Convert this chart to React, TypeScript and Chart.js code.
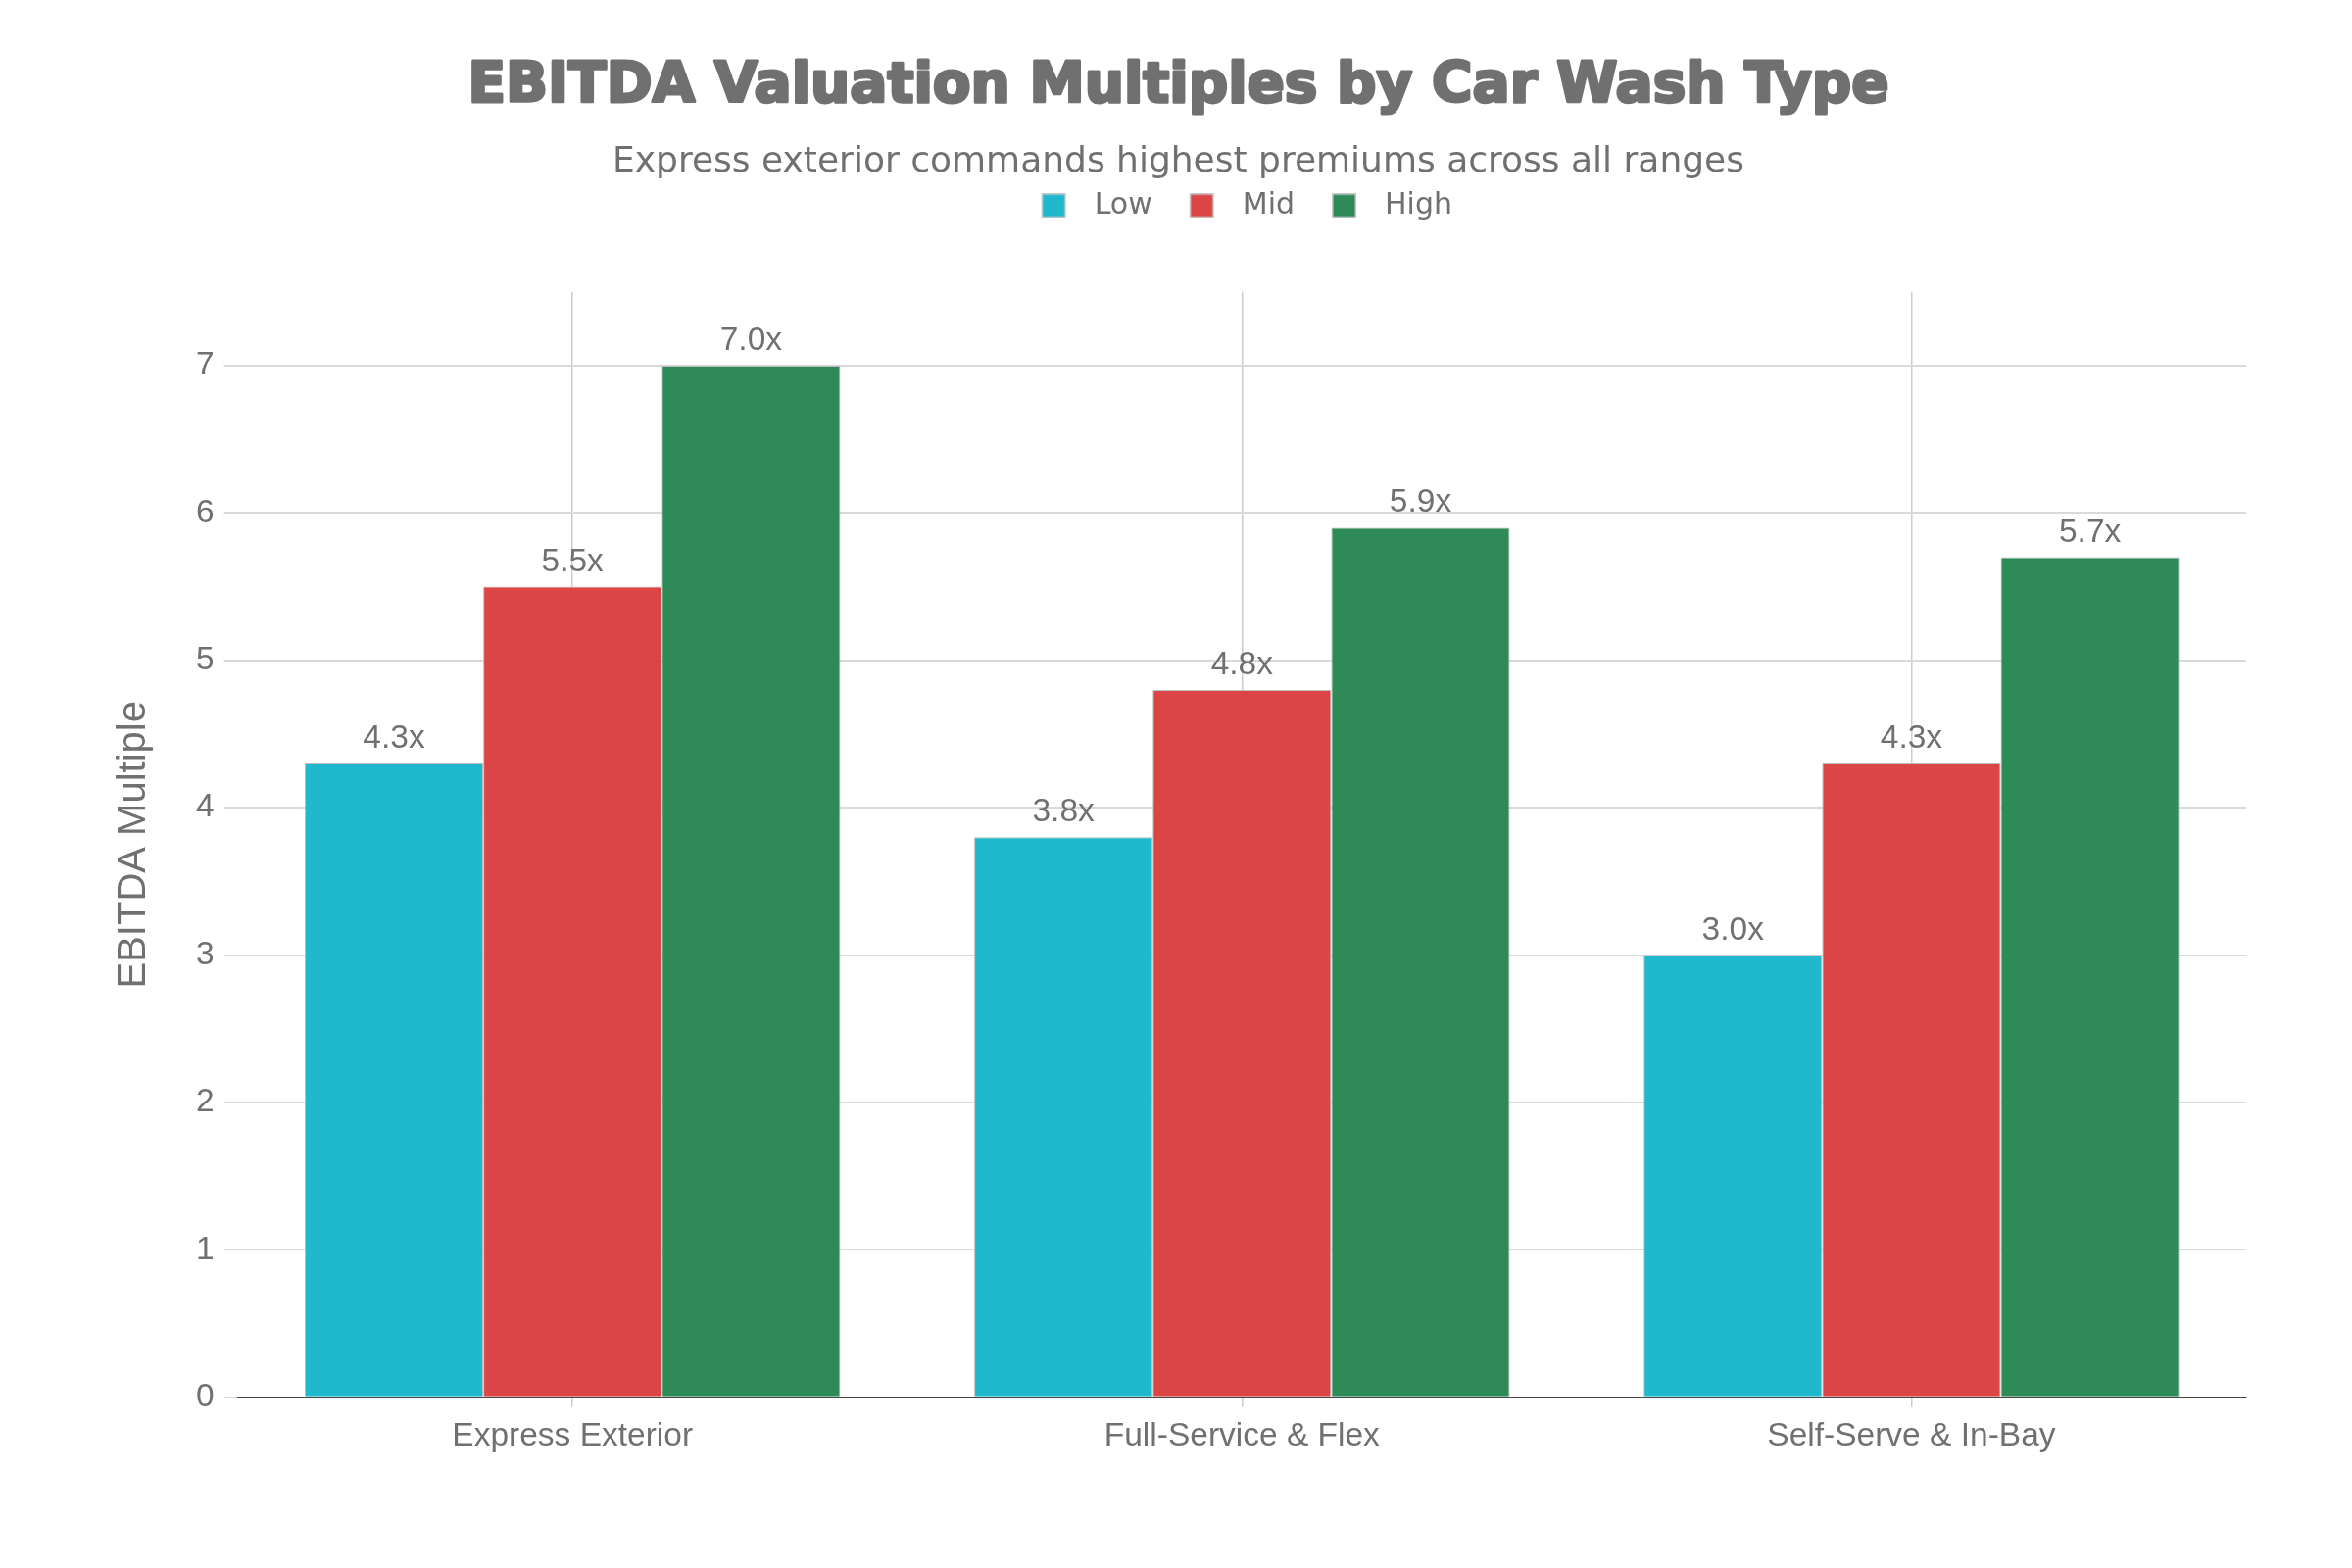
import React, { useEffect, useRef } from 'react';
import { Chart, registerables } from 'chart.js';

Chart.register(...registerables);

const categories = ['Express Exterior', 'Full-Service & Flex', 'Self-Serve & In-Bay'];
const seriesNames = ['Low', 'Mid', 'High'];
const lowValues = [4.3, 3.8, 3.0];
const midValues = [5.5, 4.8, 4.3];
const highValues = [7.0, 5.9, 5.7];
const seriesColors = ['#1FB8CD', '#DB4545', '#2E8B57'];
const yTickValues = [0, 1, 2, 3, 4, 5, 6, 7];
const titleText = 'EBITDA Valuation Multiples by Car Wash Type';
const subtitleText = 'Express exterior commands highest premiums across all ranges';
const yAxisTitle = 'EBITDA Multiple';

const TEXT = '#707070';
const SANS = '"Liberation Sans", Arial, sans-serif';
const DEJAVU = '"DejaVu Sans", sans-serif';
const LEGEND_GAP = 63;
const TITLE_SIZE = 56.5;
const TITLE_PAD_TOP = 55;
const ICON_W = 49;
const ICON_OFFSET = 10;

function makeLegendIcon(color: string): HTMLCanvasElement {
  const c = document.createElement('canvas');
  c.width = ICON_W;
  c.height = 25;
  const g = c.getContext('2d')!;
  g.fillStyle = color;
  g.fillRect(ICON_OFFSET, 0, 25, 25);
  g.strokeStyle = '#c8c8c8';
  g.lineWidth = 1.5;
  g.strokeRect(ICON_OFFSET + 0.75, 0.75, 23.5, 23.5);
  return c;
}

const barLabels = {
  id: 'barLabels',
  afterDatasetsDraw(chart: any) {
    const ctx = chart.ctx;
    ctx.save();
    ctx.font = `33.5px ${SANS}`;
    ctx.fillStyle = TEXT;
    ctx.textAlign = 'center';
    ctx.textBaseline = 'alphabetic';
    chart.data.datasets.forEach((ds: any, i: number) => {
      const meta = chart.getDatasetMeta(i);
      meta.data.forEach((bar: any, j: number) => {
        ctx.fillText(Number(ds.data[j]).toFixed(1) + 'x', bar.x, bar.y - 16);
      });
    });
    ctx.restore();
  },
};

const titleStroke = {
  id: 'titleStroke',
  afterDraw(chart: any) {
    const tb = chart.titleBlock;
    if (!tb) return;
    const ctx = chart.ctx;
    ctx.save();
    ctx.font = `bold ${TITLE_SIZE}px ${DEJAVU}`;
    ctx.strokeStyle = TEXT;
    ctx.lineWidth = 3;
    ctx.lineJoin = 'round';
    ctx.textAlign = 'center';
    ctx.textBaseline = 'middle';
    ctx.strokeText(titleText, (tb.left + tb.right) / 2, tb.top + TITLE_PAD_TOP + (TITLE_SIZE * 1.2) / 2);
    ctx.restore();
  },
};

const legendSpacer = {
  id: 'legendSpacer',
  beforeInit(chart: any) {
    const legend = chart.legend;
    if (!legend) return;
    const origFit = legend.fit;
    legend.fit = function () {
      origFit.call(this);
      this.height += LEGEND_GAP;
    };
  },
};

export default function App() {
  const canvasRef = useRef<HTMLCanvasElement | null>(null);

  useEffect(() => {
    if (!canvasRef.current) return;
    const seriesValues = [lowValues, midValues, highValues];
    const icons = seriesColors.map(makeLegendIcon);
    const chart = new Chart(canvasRef.current, {
      type: 'bar',
      data: {
        labels: categories,
        datasets: seriesNames.map((name, i) => ({
          label: name,
          data: seriesValues[i],
          backgroundColor: seriesColors[i],
          borderColor: '#bdbdbd',
          borderWidth: 1,
          categoryPercentage: 0.8,
          barPercentage: 1.0,
        })),
      },
      options: {
        animation: false,
        responsive: false,
        devicePixelRatio: 1,
        layout: { padding: { left: 113, right: 108, top: 0, bottom: 104 } },
        plugins: {
          title: {
            display: true,
            text: titleText,
            color: TEXT,
            font: { family: DEJAVU, size: TITLE_SIZE, weight: 'bold', lineHeight: 1.2 },
            padding: { top: TITLE_PAD_TOP, bottom: 25 },
          },
          subtitle: {
            display: true,
            text: subtitleText,
            color: TEXT,
            font: { family: DEJAVU, size: 36, lineHeight: 1 },
            padding: { top: 0, bottom: -17 },
          },
          legend: {
            display: true,
            position: 'top',
            fullSize: false,
            labels: {
              usePointStyle: true,
              pointStyleWidth: ICON_W,
              padding: 28,
              color: TEXT,
              font: { family: DEJAVU, size: 30 },
              generateLabels: (ch: any) =>
                ch.data.datasets.map((ds: any, i: number) => ({
                  text: ds.label,
                  fillStyle: seriesColors[i],
                  strokeStyle: seriesColors[i],
                  lineWidth: 0,
                  hidden: !ch.isDatasetVisible(i),
                  datasetIndex: i,
                  pointStyle: icons[i],
                  fontColor: TEXT,
                })),
            },
          },
          tooltip: { enabled: false },
        },
        scales: {
          x: {
            grid: {
              display: true,
              offset: false,
              color: '#cccccc',
              lineWidth: 1.5,
              drawTicks: true,
              tickLength: 10,
              tickColor: '#cccccc',
            },
            border: { display: true, color: '#444444', width: 2 },
            ticks: {
              color: TEXT,
              font: { family: SANS, size: 33.5 },
              padding: 10,
            },
          },
          y: {
            min: 0,
            max: 7.5,
            afterBuildTicks: (axis: any) => {
              axis.ticks = yTickValues.map((v) => ({ value: v }));
            },
            grid: {
              color: '#d9d9d9',
              lineWidth: 2,
              drawTicks: true,
              tickLength: 14,
              tickColor: '#d9d9d9',
            },
            border: { display: false },
            ticks: {
              color: TEXT,
              font: { family: SANS, size: 33.5 },
              padding: 10,
              callback: (v: any) => String(v),
            },
            title: {
              display: true,
              text: yAxisTitle,
              color: TEXT,
              font: { family: SANS, size: 40, lineHeight: 1.2 },
              padding: { top: 0, bottom: 29 },
            },
          },
        },
      } as any,
      plugins: [barLabels, titleStroke, legendSpacer] as any,
    });
    return () => chart.destroy();
  }, []);

  return (
    <div style={{ position: 'fixed', left: 0, top: 0, width: 2400, height: 1600, background: '#ffffff' }}>
      <canvas ref={canvasRef} width={2400} height={1600} style={{ display: 'block', width: 2400, height: 1600 }} />
    </div>
  );
}
